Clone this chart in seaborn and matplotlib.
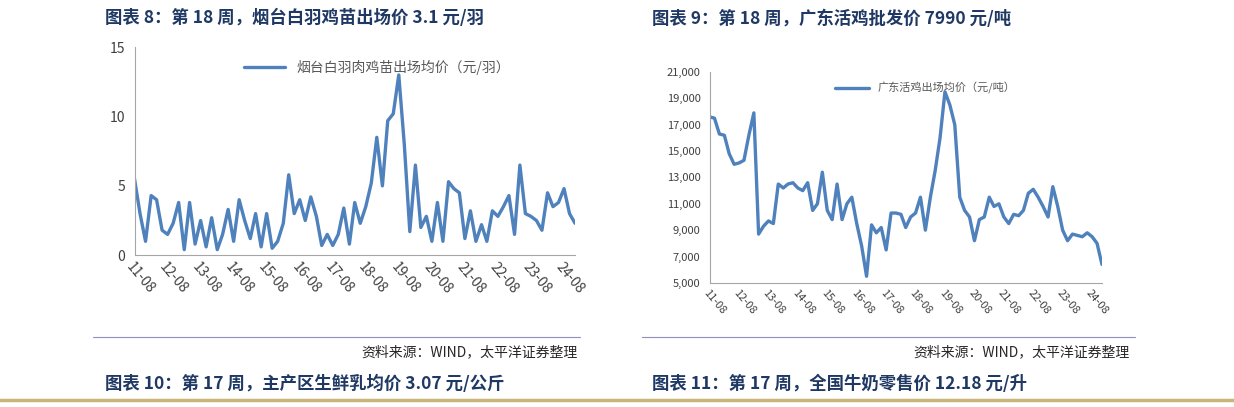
import pandas as pd
import numpy as np
import matplotlib
matplotlib.use("Agg")
import matplotlib.pyplot as plt
import seaborn as sns

sns.set_style("white")
plt.rcParams["font.family"] = ["Noto Sans CJK SC", "DejaVu Sans"]

# bi-monthly readings, 2011-08 .. 2024-12
dates = pd.date_range("2011-08-01", "2024-12-01", freq="2MS")

chick_price = [
    5.5, 3.0, 1.0, 4.3, 4.0, 1.8,
    1.5, 2.3, 3.8, 0.4, 3.8, 0.8,
    2.5, 0.6, 2.7, 0.4, 1.5, 3.3,
    1.0, 4.0, 2.5, 1.2, 3.0, 0.6,
    3.0, 0.5, 1.0, 2.3, 5.8, 3.0,
    4.0, 2.5, 4.2, 2.8, 0.7, 1.5,
    0.7, 1.5, 3.4, 0.8, 3.8, 2.3,
    3.5, 5.2, 8.5, 5.0, 9.7, 10.2,
    13.0, 8.0, 1.7, 6.5, 2.0, 2.8,
    1.0, 3.8, 1.0, 5.3, 4.8, 4.5,
    1.2, 3.2, 1.0, 2.2, 1.0, 3.2,
    2.8, 3.5, 4.3, 1.5, 6.5, 3.0,
    2.8, 2.5, 1.8, 4.5, 3.5, 3.8,
    4.8, 3.0, 2.3,
]

broiler_price = [
    17600, 17500, 16300, 16200, 14800, 14000,
    14100, 14300, 16200, 17900, 8700, 9300,
    9700, 9500, 12500, 12200, 12500, 12600,
    12200, 12000, 12600, 10500, 11000, 13400,
    10500, 9800, 12500, 9800, 11000, 11500,
    9500, 7800, 5500, 9400, 8800, 9200,
    7500, 10300, 10300, 10200, 9200, 10000,
    10300, 11500, 9000, 11500, 13500, 16000,
    19500, 18500, 17000, 11500, 10500, 10000,
    8200, 9800, 10000, 11500, 10800, 11000,
    10000, 9500, 10200, 10100, 10500, 11800,
    12100, 11500, 10800, 10000, 12300, 10800,
    9000, 8200, 8700, 8600, 8500, 8800,
    8500, 8000, 6400,
]

tick_dates = pd.date_range("2011-08-01", "2024-08-01", freq="12MS")
tick_labels = [d.strftime("%y-%m") for d in tick_dates]

line_color = "#4f81bd"
title_color = "#1f3864"

fig = plt.figure(figsize=(12.34, 4.07), dpi=100)


def style_axis(ax, ylim, yticks, ylabels, tick_size):
    ax.set_xlim(dates[0], dates[-1])
    ax.set_ylim(*ylim)
    ax.set_yticks(yticks)
    ax.set_yticklabels(ylabels, fontsize=tick_size, color="#404040")
    ax.set_xticks(tick_dates)
    ax.set_xticklabels(tick_labels, rotation=-50, ha="left", rotation_mode="anchor",
                       fontsize=tick_size, color="#404040")
    ax.set_xlabel("")
    ax.set_ylabel("")
    for side in ["top", "right"]:
        ax.spines[side].set_visible(False)
    for side in ["left", "bottom"]:
        ax.spines[side].set_color("#a6a6a6")
    ax.tick_params(axis="x", length=4, color="#a6a6a6", direction="in")
    ax.tick_params(axis="y", length=3, color="#a6a6a6", direction="out")
    ax.legend(loc="upper center", bbox_to_anchor=(0.55, 1.0), frameon=False,
              handlelength=3, fontsize=tick_size, labelcolor="#595959")


ax1 = fig.add_axes([0.109, 0.373, 0.357, 0.511])
sns.lineplot(x=dates, y=chick_price, ax=ax1, color=line_color, linewidth=2.4,
             label="烟台白羽肉鸡苗出场均价（元/羽）")
style_axis(ax1, (0, 15), [0, 5, 10, 15], ["0", "5", "10", "15"], 10)

ax2 = fig.add_axes([0.575, 0.305, 0.318, 0.518])
sns.lineplot(x=dates, y=broiler_price, ax=ax2, color=line_color, linewidth=2.4,
             label="广东活鸡出场均价（元/吨）")
yt = list(range(5000, 21001, 2000))
style_axis(ax2, (5000, 21000), yt, [f"{v:,}" for v in yt], 8)

# titles and source notes
fig.text(0.085, 0.955, "图表 8：第 18 周，烟台白羽鸡苗出场价 3.1 元/羽",
         fontsize=12.5, fontweight="bold", color=title_color, va="center")
fig.text(0.528, 0.955, "图表 9：第 18 周，广东活鸡批发价 7990 元/吨",
         fontsize=12.5, fontweight="bold", color=title_color, va="center")
fig.text(0.085, 0.058, "图表 10：第 17 周，主产区生鲜乳均价 3.07 元/公斤",
         fontsize=12.5, fontweight="bold", color=title_color, va="center")
fig.text(0.528, 0.058, "图表 11：第 17 周，全国牛奶零售价 12.18 元/升",
         fontsize=12.5, fontweight="bold", color=title_color, va="center")
fig.text(0.468, 0.135, "资料来源：WIND，太平洋证券整理", fontsize=10,
         style="italic", ha="right", va="center")
fig.text(0.915, 0.135, "资料来源：WIND，太平洋证券整理", fontsize=10,
         style="italic", ha="right", va="center")

# separator lines
for x0, x1 in [(0.075, 0.47), (0.52, 0.92)]:
    fig.add_artist(plt.Line2D([x0, x1], [0.172, 0.172], color="#8e8ec0", lw=0.8))
fig.add_artist(plt.Line2D([0.0, 1.0], [0.018, 0.018], color="#c9b47a", lw=2.5))

fig.savefig("out.png", dpi=100)
